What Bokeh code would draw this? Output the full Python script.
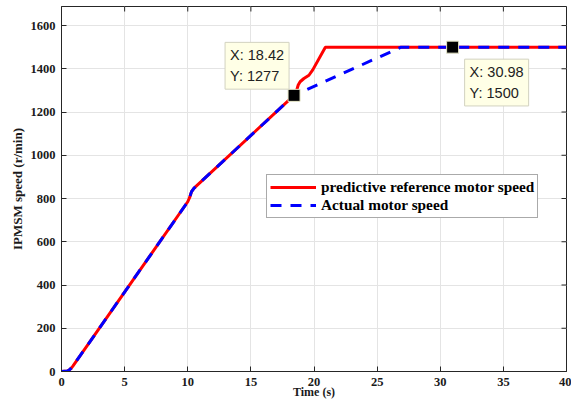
import math
from bokeh.plotting import figure
from bokeh.models import Range1d, Legend, LegendItem, Label, FixedTicker
from bokeh.embed import file_html
from bokeh.resources import INLINE

# predictive reference motor speed
ref_t = [0, 0.45, 0.6, 0.75, 0.9, 10.0, 10.15, 10.3, 10.5, 18.42, 18.6, 18.75, 18.9, 19.2, 19.6, 19.9, 20.9, 40]
ref_v = [0, 2, 6, 14, 25, 785, 805, 832, 848, 1277, 1295, 1325, 1340, 1355, 1370, 1395, 1500, 1500]
# actual motor speed
act_t = [0, 0.45, 0.6, 0.75, 0.9, 10.0, 10.15, 10.3, 10.5, 18.42, 26.9, 40]
act_v = [0, 2, 6, 14, 25, 785, 805, 832, 848, 1277, 1500, 1500]
# data tips
dt_x = [18.42, 30.98]
dt_y = [1277, 1500]
x_ticks = [0, 5, 10, 15, 20, 25, 30, 35, 40]
y_ticks = [0, 200, 400, 600, 800, 1000, 1200, 1400, 1600]
X_MAX = 40
Y_MAX = 1688

SERIF = "Liberation Serif"
DARK = "#262626"

p = figure(width=571, height=404, output_backend="svg", toolbar_location=None,
           x_range=Range1d(0, X_MAX), y_range=Range1d(0, Y_MAX),
           min_border_left=61, min_border_right=5, min_border_top=6, min_border_bottom=33,
           background_fill_color="white", border_fill_color="white")

p.outline_line_color = DARK
p.outline_line_width = 1

for ax in (p.xaxis[0], p.yaxis[0]):
    ax.major_label_text_font = SERIF
    ax.major_label_text_font_style = "bold"
    ax.major_label_text_font_size = "12.5px"
    ax.major_label_text_color = "#1a1a1a"
    ax.axis_label_text_font = SERIF
    ax.axis_label_text_font_style = "bold"
    ax.axis_label_text_color = "#1a1a1a"
    ax.major_tick_in = 5
    ax.major_tick_out = 0
    ax.minor_tick_line_color = None
    ax.axis_line_color = DARK
    ax.major_tick_line_color = DARK
    ax.major_label_standoff = 6

p.xaxis[0].ticker = FixedTicker(ticks=x_ticks)
p.yaxis[0].ticker = FixedTicker(ticks=y_ticks)
p.xaxis[0].axis_label = "Time (s)"
p.yaxis[0].axis_label = "IPMSM speed (r/min)"
p.xaxis[0].axis_label_text_font_size = "12px"
p.yaxis[0].axis_label_text_font_size = "13px"
p.xaxis[0].axis_label_standoff = -4
p.yaxis[0].axis_label_standoff = 3

p.xgrid.ticker = FixedTicker(ticks=x_ticks)
p.ygrid.ticker = FixedTicker(ticks=y_ticks)
p.grid.grid_line_color = "#e4e4e4"
p.grid.grid_line_width = 1

# mirrored inward ticks on the right and top edges of the box
p.ray(x=[X_MAX] * len(y_ticks), y=y_ticks, length=5, length_units="screen",
      angle=math.pi, line_color=DARK, line_width=1)
p.ray(x=x_ticks, y=[Y_MAX] * len(x_ticks), length=5, length_units="screen",
      angle=-math.pi / 2, line_color=DARK, line_width=1)

r1 = p.line(ref_t, ref_v, line_color="#FF0000", line_width=3)
r2 = p.line(act_t, act_v, line_color="#0000FF", line_width=3, line_dash="11 9")

p.scatter(dt_x, dt_y, marker="square", size=12, fill_color="black", line_color="#e6e6c8", line_width=1)

legend = Legend(items=[LegendItem(label="predictive reference motor speed", renderers=[r1]),
                       LegendItem(label="Actual motor speed", renderers=[r2])],
                location=(205, 153), orientation="vertical",
                label_text_font=SERIF, label_text_font_style="bold", label_text_font_size="15.3px",
                label_text_color="black", glyph_width=46, glyph_height=18, label_height=18,
                label_standoff=5, padding=3, spacing=0, margin=0,
                border_line_color="#555555", border_line_width=1,
                background_fill_color="white", background_fill_alpha=1)
p.add_layout(legend, "center")

tips = [("X: %.2f\nY: %d" % (dt_x[0], dt_y[0]), dt_x[0], dt_y[0], -69, 53),
        ("X: %.2f\nY: %d" % (dt_x[1], dt_y[1]), dt_x[1], dt_y[1], 12, -12)]
for txt, x, y, xo, yo in tips:
    lab = Label(x=x, y=y, x_offset=xo, y_offset=yo, text=txt,
                text_font="Liberation Sans", text_font_size="14.5px", text_color="#222222",
                text_align="left", text_baseline="top", text_line_height=1.3,
                background_fill_color="#FFFFE6", background_fill_alpha=1,
                border_line_color="#d2d2c0", border_line_width=1, padding=5)
    p.add_layout(lab)

open("out.html", "w").write(file_html(p, INLINE))
